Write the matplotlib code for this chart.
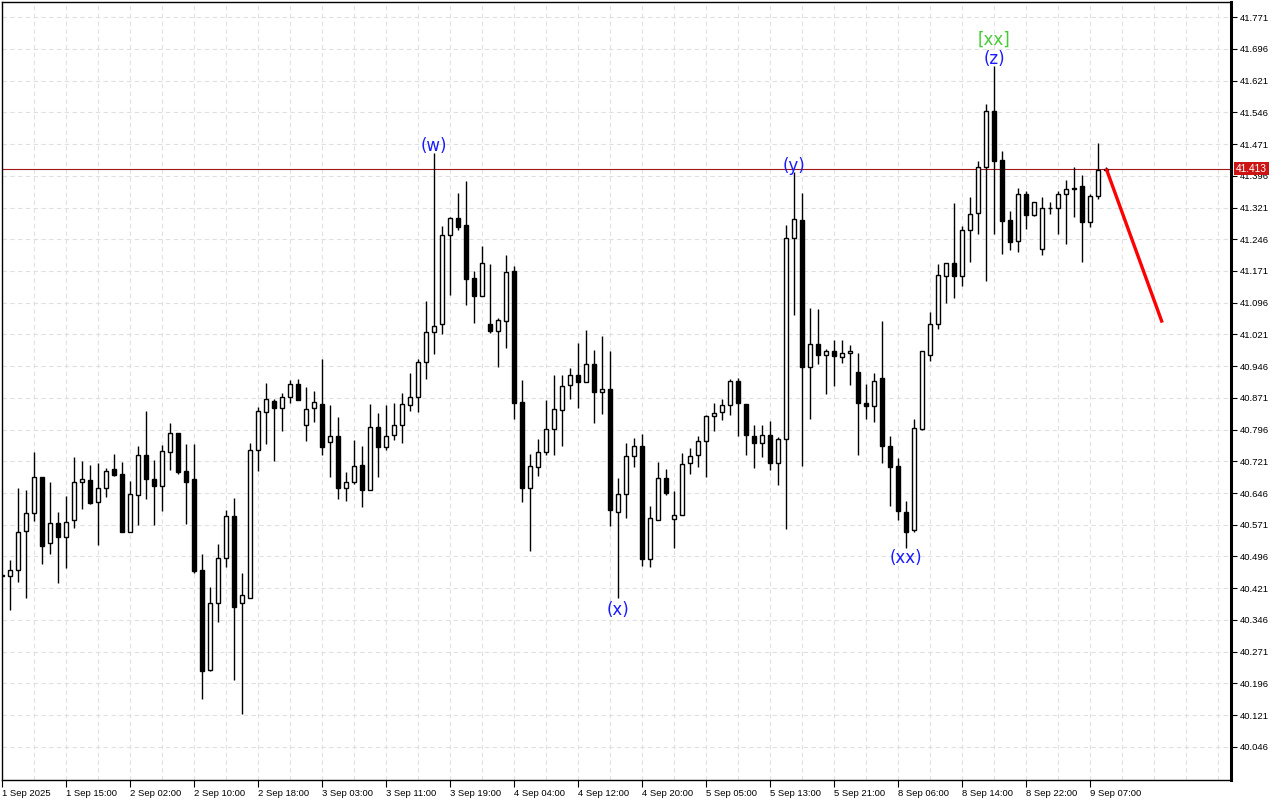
import matplotlib
matplotlib.use("Agg")
import matplotlib.pyplot as plt
import numpy as np

# ---------------- data ----------------
opens = [40.452, 40.449, 40.463, 40.557, 40.598, 40.683, 40.529, 40.574, 40.541, 40.583,
         40.671, 40.676, 40.624, 40.659, 40.702, 40.690, 40.555, 40.642, 40.737, 40.680,
         40.663, 40.744, 40.787, 40.698, 40.679, 40.465, 40.228, 40.386, 40.492, 40.591,
         40.386, 40.398, 40.747, 40.837, 40.863, 40.847, 40.873, 40.903, 40.807, 40.847,
         40.856, 40.766, 40.781, 40.658, 40.672, 40.712, 40.652, 40.802, 40.755, 40.783,
         40.807, 40.854, 40.874, 40.956, 41.026, 41.045, 41.256, 41.296, 41.279, 41.154,
         41.113, 41.045, 41.030, 41.052, 41.171, 40.861, 40.657, 40.707, 40.743, 40.797,
         40.842, 40.901, 40.925, 40.908, 40.951, 40.885, 40.892, 40.600, 40.644, 40.733,
         40.757, 40.489, 40.583, 40.681, 40.584, 40.593, 40.717, 40.736, 40.769, 40.828,
         40.837, 40.854, 40.911, 40.856, 40.781, 40.764, 40.783, 40.717, 40.773, 41.249,
         41.291, 40.945, 40.999, 40.973, 40.983, 40.967, 40.976, 40.931, 40.860, 40.852,
         40.917, 40.758, 40.711, 40.600, 40.559, 40.798, 40.973, 41.046, 41.159, 41.191,
         41.158, 41.267, 41.307, 41.417, 41.549, 41.434, 41.291, 41.242, 41.354, 41.304,
         41.222, 41.319, 41.319, 41.352, 41.364, 41.371, 41.287, 41.349, 41.409]
highs = [40.455, 40.487, 40.657, 40.653, 40.743, 40.684, 40.672, 40.602, 40.639, 40.731,
         40.721, 40.712, 40.717, 40.706, 40.738, 40.719, 40.674, 40.758, 40.839, 40.725,
         40.759, 40.811, 40.789, 40.761, 40.761, 40.501, 40.424, 40.526, 40.606, 40.634,
         40.457, 40.764, 40.849, 40.907, 40.868, 40.883, 40.913, 40.916, 40.896, 40.887,
         40.963, 40.854, 40.825, 40.695, 40.772, 40.757, 40.856, 40.835, 40.854, 40.859,
         40.882, 40.930, 40.963, 41.100, 41.450, 41.278, 41.298, 41.356, 41.384, 41.171,
         41.231, 41.188, 41.060, 41.209, 41.183, 40.914, 40.739, 40.774, 40.866, 40.926,
         40.926, 40.941, 41.000, 41.031, 40.984, 41.017, 40.982, 40.681, 40.764, 40.777,
         40.786, 40.616, 40.719, 40.703, 40.650, 40.740, 40.752, 40.781, 40.830, 40.859,
         40.868, 40.915, 40.918, 40.856, 40.807, 40.807, 40.816, 40.778, 41.279, 41.404,
         41.355, 41.083, 41.081, 40.987, 41.007, 41.009, 40.995, 40.977, 40.904, 40.930,
         41.052, 40.782, 40.729, 40.628, 40.822, 40.983, 41.075, 41.187, 41.191, 41.331,
         41.278, 41.347, 41.431, 41.566, 41.656, 41.454, 41.312, 41.368, 41.359, 41.333,
         41.345, 41.333, 41.361, 41.385, 41.416, 41.399, 41.352, 41.473, 41.416]
lows = [40.448, 40.369, 40.436, 40.398, 40.580, 40.479, 40.502, 40.434, 40.469, 40.564,
        40.609, 40.621, 40.524, 40.637, 40.687, 40.554, 40.555, 40.570, 40.631, 40.570,
        40.604, 40.700, 40.690, 40.573, 40.456, 40.158, 40.226, 40.342, 40.472, 40.205,
        40.124, 40.398, 40.699, 40.763, 40.721, 40.792, 40.858, 40.866, 40.770, 40.813,
        40.737, 40.685, 40.633, 40.628, 40.667, 40.612, 40.652, 40.685, 40.747, 40.771,
        40.764, 40.839, 40.837, 40.916, 40.974, 41.021, 41.115, 41.267, 41.090, 41.049,
        41.113, 41.024, 40.943, 40.988, 40.822, 40.624, 40.508, 40.687, 40.736, 40.736,
        40.757, 40.868, 40.847, 40.908, 40.811, 40.832, 40.569, 40.398, 40.588, 40.707,
        40.473, 40.470, 40.583, 40.642, 40.517, 40.593, 40.691, 40.707, 40.684, 40.792,
        40.818, 40.830, 40.781, 40.736, 40.705, 40.731, 40.700, 40.665, 40.561, 41.067,
        40.710, 40.820, 40.951, 40.881, 40.899, 40.953, 40.901, 40.736, 40.820, 40.814,
        40.718, 40.615, 40.583, 40.517, 40.553, 40.796, 40.957, 41.034, 41.095, 41.106,
        41.136, 41.192, 41.258, 41.147, 41.258, 41.212, 41.221, 41.215, 41.271, 41.301,
        41.209, 41.305, 41.259, 41.235, 41.299, 41.193, 41.275, 41.342, 41.408]
closes = [40.450, 40.463, 40.555, 40.598, 40.683, 40.521, 40.576, 40.541, 40.578, 40.671,
          40.680, 40.623, 40.659, 40.699, 40.689, 40.554, 40.644, 40.737, 40.680, 40.663,
          40.746, 40.787, 40.696, 40.672, 40.462, 40.226, 40.386, 40.492, 40.591, 40.376,
          40.405, 40.747, 40.840, 40.868, 40.846, 40.873, 40.903, 40.867, 40.844, 40.861,
          40.755, 40.781, 40.658, 40.672, 40.710, 40.652, 40.802, 40.755, 40.781, 40.807,
          40.856, 40.874, 40.956, 41.026, 41.040, 41.256, 41.296, 41.276, 41.153, 41.113,
          41.190, 41.028, 41.054, 41.168, 40.860, 40.657, 40.710, 40.743, 40.797, 40.844,
          40.899, 40.925, 40.908, 40.951, 40.885, 40.892, 40.605, 40.644, 40.733, 40.757,
          40.489, 40.588, 40.681, 40.646, 40.593, 40.714, 40.733, 40.769, 40.828, 40.835,
          40.854, 40.911, 40.859, 40.783, 40.764, 40.783, 40.717, 40.773, 41.249, 41.294,
          40.944, 40.999, 40.973, 40.982, 40.969, 40.977, 40.983, 40.860, 40.852, 40.912,
          40.758, 40.708, 40.604, 40.555, 40.800, 40.981, 41.046, 41.161, 41.191, 41.158,
          41.267, 41.305, 41.416, 41.549, 41.432, 41.289, 41.240, 41.354, 41.304, 41.333,
          41.319, 41.321, 41.352, 41.364, 41.368, 41.287, 41.349, 41.409, 41.413]

time_labels = ["1 Sep 2025", "1 Sep 15:00", "2 Sep 02:00", "2 Sep 10:00", "2 Sep 18:00",
               "3 Sep 03:00", "3 Sep 11:00", "3 Sep 19:00", "4 Sep 04:00", "4 Sep 12:00",
               "4 Sep 20:00", "5 Sep 05:00", "5 Sep 13:00", "5 Sep 21:00", "8 Sep 06:00",
               "8 Sep 14:00", "8 Sep 22:00", "9 Sep 07:00"]
label_step = 8

price_ticks = [40.046, 40.121, 40.196, 40.271, 40.346, 40.421, 40.496, 40.571, 40.646,
               40.721, 40.796, 40.871, 40.946, 41.021, 41.096, 41.171, 41.246, 41.321,
               41.396, 41.471, 41.546, 41.621, 41.696, 41.771]
last_price = 41.413

wave_labels = ["(w)", "(x)", "(y)", "(xx)", "(z)"]
wave_bars = [54, 77, 99, 113, 124]
wave_above = [True, False, True, False, True]
degree_label = "[xx]"
degree_bar = 124

forecast_x = [138, 145]
forecast_y = [41.413, 41.049]

# ---------------- drawing ----------------
plt.rcParams['font.family'] = ['Liberation Sans', 'DejaVu Sans']
fig = plt.figure(figsize=(12.8, 8.0), dpi=100)
fig.patch.set_facecolor('white')
ax = fig.add_axes([2 / 1280, 20 / 800, 1229 / 1280, 778 / 800])
ax.set_facecolor('white')

n = len(opens)
x = np.arange(n)
o = np.array(opens); h = np.array(highs); l = np.array(lows); c = np.array(closes)

ax.set_xlim(-0.04, 153.6)
ax.set_ylim(39.9675, 41.807)

# grid
grid_kw = dict(color='#e0e0e0', lw=0.8, ls=(0, (4, 3)), zorder=0)
for gx in range(0, 156, 4):
    ax.axvline(gx, **grid_kw)
for gy in price_ticks:
    ax.axhline(gy, **grid_kw)

# last price line
ax.axhline(last_price, color='#a01818', lw=0.8, zorder=1)

# wicks
ax.vlines(x, l, h, color='black', lw=1.0, zorder=2)
# bodies
bull = c >= o
bottoms = np.minimum(o, c)
heights = np.maximum(np.abs(c - o), 0.0012)
ax.bar(x[bull], heights[bull], bottom=bottoms[bull], width=0.52,
       facecolor='white', edgecolor='black', linewidth=1.0, zorder=3)
ax.bar(x[~bull], heights[~bull], bottom=bottoms[~bull], width=0.52,
       facecolor='black', edgecolor='black', linewidth=1.0, zorder=3)

# forecast line
ax.plot(forecast_x, forecast_y, color='#ff0000', lw=2.4, zorder=4,
        solid_capstyle='butt')

# wave labels
for lab, b, up in zip(wave_labels, wave_bars, wave_above):
    if up:
        ax.annotate(lab, xy=(b, highs[b]), xytext=(0, -1.5), textcoords='offset points',
                    ha='center', va='bottom', color='#1a1aff', fontsize=12,
                    family='DejaVu Sans', zorder=5)
    else:
        ax.annotate(lab, xy=(b, lows[b]), xytext=(0, -2.5 if b == 77 else -1),
                    textcoords='offset points',
                    ha='center', va='top', color='#1a1aff', fontsize=12,
                    family='DejaVu Sans', zorder=5)
ax.annotate(degree_label, xy=(degree_bar, highs[degree_bar]), xytext=(0, 12.5),
            textcoords='offset points', ha='center', va='bottom', color='#44cc33',
            fontsize=12, family='DejaVu Sans', zorder=5)

# axes / ticks
ax.yaxis.tick_right()
ax.set_yticks(price_ticks)
ax.set_yticklabels([f"{v:.3f}" for v in price_ticks])
ax.set_xticks(np.arange(len(time_labels)) * label_step)
ax.set_xticklabels(time_labels)
for t in ax.get_xticklabels():
    t.set_ha('left')
ax.tick_params(axis='both', direction='out', length=4, width=0.8, colors='black',
               labelsize=6.8, pad=2)
ax.tick_params(axis='x', length=5, pad=1.5)

for side in ['left', 'top', 'bottom']:
    ax.spines[side].set_linewidth(1.0)
    ax.spines[side].set_color('black')
ax.spines['right'].set_linewidth(2.2)
ax.spines['right'].set_color('black')

# current price box
ax.text(1.0 + 5 / 1229, last_price, f"{last_price:.3f}", transform=ax.get_yaxis_transform(),
        ha='left', va='center', color='white', fontsize=7.4, zorder=10,
        bbox=dict(boxstyle='square,pad=0.18', facecolor='#cc1414', edgecolor='none'),
        clip_on=False)

fig.savefig('out.png', dpi=100, facecolor='white')
